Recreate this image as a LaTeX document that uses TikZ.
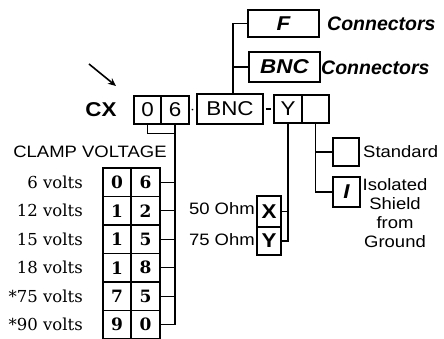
\documentclass[tikz,border=0pt]{standalone}
\usepackage{fontspec}
\setmainfont{Liberation Sans}
\newfontfamily\lblfont[FakeStretch=1.12]{Liberation Sans}
\newfontfamily\serfont{DejaVu Serif}
\usetikzlibrary{arrows.meta}
\begin{document}
\begin{tikzpicture}[x=1pt,y=-1pt,
  box/.style={draw,line width=1.6pt,inner sep=0pt,anchor=center},
  conn/.style={line width=1.4pt},
  lbl/.style={font=\lblfont\fontsize{16.5}{19}\selectfont,inner sep=0pt},
  conlbl/.style={font=\fontsize{19.5}{20}\selectfont\bfseries\itshape,inner sep=0pt,anchor=west},
  hand/.style={font=\lblfont\fontsize{20}{20}\selectfont},
  boldin/.style={font=\lblfont\fontsize{20}{20}\selectfont\bfseries\itshape},
  volt/.style={font=\serfont\fontsize{16.5}{17}\selectfont,inner sep=0pt,anchor=east},
  cell/.style={box,minimum width=28.5pt,minimum height=28.5pt,font=\serfont\bfseries\fontsize{17}{17}\selectfont}
]
\path[use as bounding box] (0,0) rectangle (444,339);

% arrow and CX
\coordinate (arrS) at (89,64);
\coordinate (arrE) at (116,86);
\draw[line width=1.6pt,-{Stealth[length=8pt,width=7pt]}] (arrS) -- (arrE);
\node[font=\lblfont\fontsize{20}{20}\selectfont\bfseries,inner sep=0pt] (cx) at (101,110) {CX};

% top row of boxes
\node[box,hand,minimum width=27pt,minimum height=28pt] (c0) at (147.5,110) {0};
\node[box,hand,minimum width=28pt,minimum height=28pt] (c6) at (175,110) {6};
\node[box,hand,minimum width=66pt,minimum height=30pt] (bnc) at (230,109) {BNC};
\node[box,hand,minimum width=28pt,minimum height=28pt] (yy) at (288,109) {Y};
\node[box,minimum width=27pt,minimum height=28pt] (blank) at (315.5,109) {};

\draw[conn,shorten <=2pt,shorten >=3pt] (c6.east) -- (bnc.west);
\draw[conn,shorten <=2pt,shorten >=2pt] (bnc.east) -- (yy.west);

% connector options
\node[box,boldin,minimum width=71pt,minimum height=27pt] (fbox) at (283.5,23.5) {F};
\node[box,boldin,minimum width=71pt,minimum height=30pt] (bbox) at (284.5,67) {BNC};
\node[conlbl] (fcon) at (327,24) {Connectors};
\node[conlbl] (bcon) at (321,68) {Connectors};
\coordinate (bnctop) at ([xshift=3pt]bnc.north);
\draw[conn] (bnctop) |- (fbox.west);
\draw[conn] (bnctop) |- (bbox.west);

% shield options
\node[box,minimum width=26pt,minimum height=28pt] (std) at (346,152) {};
\node[box,boldin,minimum width=27pt,minimum height=30pt] (iso) at (346.5,192) {I};
\node[lbl,anchor=west] (stdl) at (363,152) {Standard};
\node[lbl,align=center,anchor=north] (isol) at (395,178) {Isolated\\Shield\\from\\Ground};
\draw[conn] (blank.south) |- (std.west);
\draw[conn] (blank.south) |- (iso.west);

% impedance options
\node[box,font=\lblfont\fontsize{20}{20}\selectfont\bfseries,minimum width=24pt,minimum height=31pt] (xb) at (269,211.5) {X};
\node[box,font=\lblfont\fontsize{20}{20}\selectfont\bfseries,minimum width=24pt,minimum height=28pt] (yb) at (269,241) {Y};
\node[lbl,anchor=east] (x50) at (255,209) {50 Ohm};
\node[lbl,anchor=east] (x75) at (255,240) {75 Ohm};
\draw[conn] (yy.south) |- (xb.east);
\draw[conn] (yy.south) |- (yb.east);

% clamp voltage table
\node[lbl] (clamp) at (90,152) {CLAMP VOLTAGE};
\foreach \i/\a/\b/\v in {1/0/6/6 volts,2/1/2/12 volts,3/1/5/15 volts,4/1/8/18 volts,5/7/5/*75 volts,6/9/0/*90 volts}{
  \pgfmathsetmacro{\yc}{168+28.5*(\i-0.5)}
  \node[cell] (ta\i) at (117,\yc) {\a};
  \node[cell] (tb\i) at (145.5,\yc) {\b};
  \node[volt] (v\i) at (83,\yc) {\v};
  \draw[conn] (tb\i.east) -- (tb\i.east -| c6.south);
}
\draw[conn] (c0.south) -- ++(0,9) -| (c6.south);
\draw[conn] (c6.south) -- (c6.south |- tb6.east);
\end{tikzpicture}
\end{document}
